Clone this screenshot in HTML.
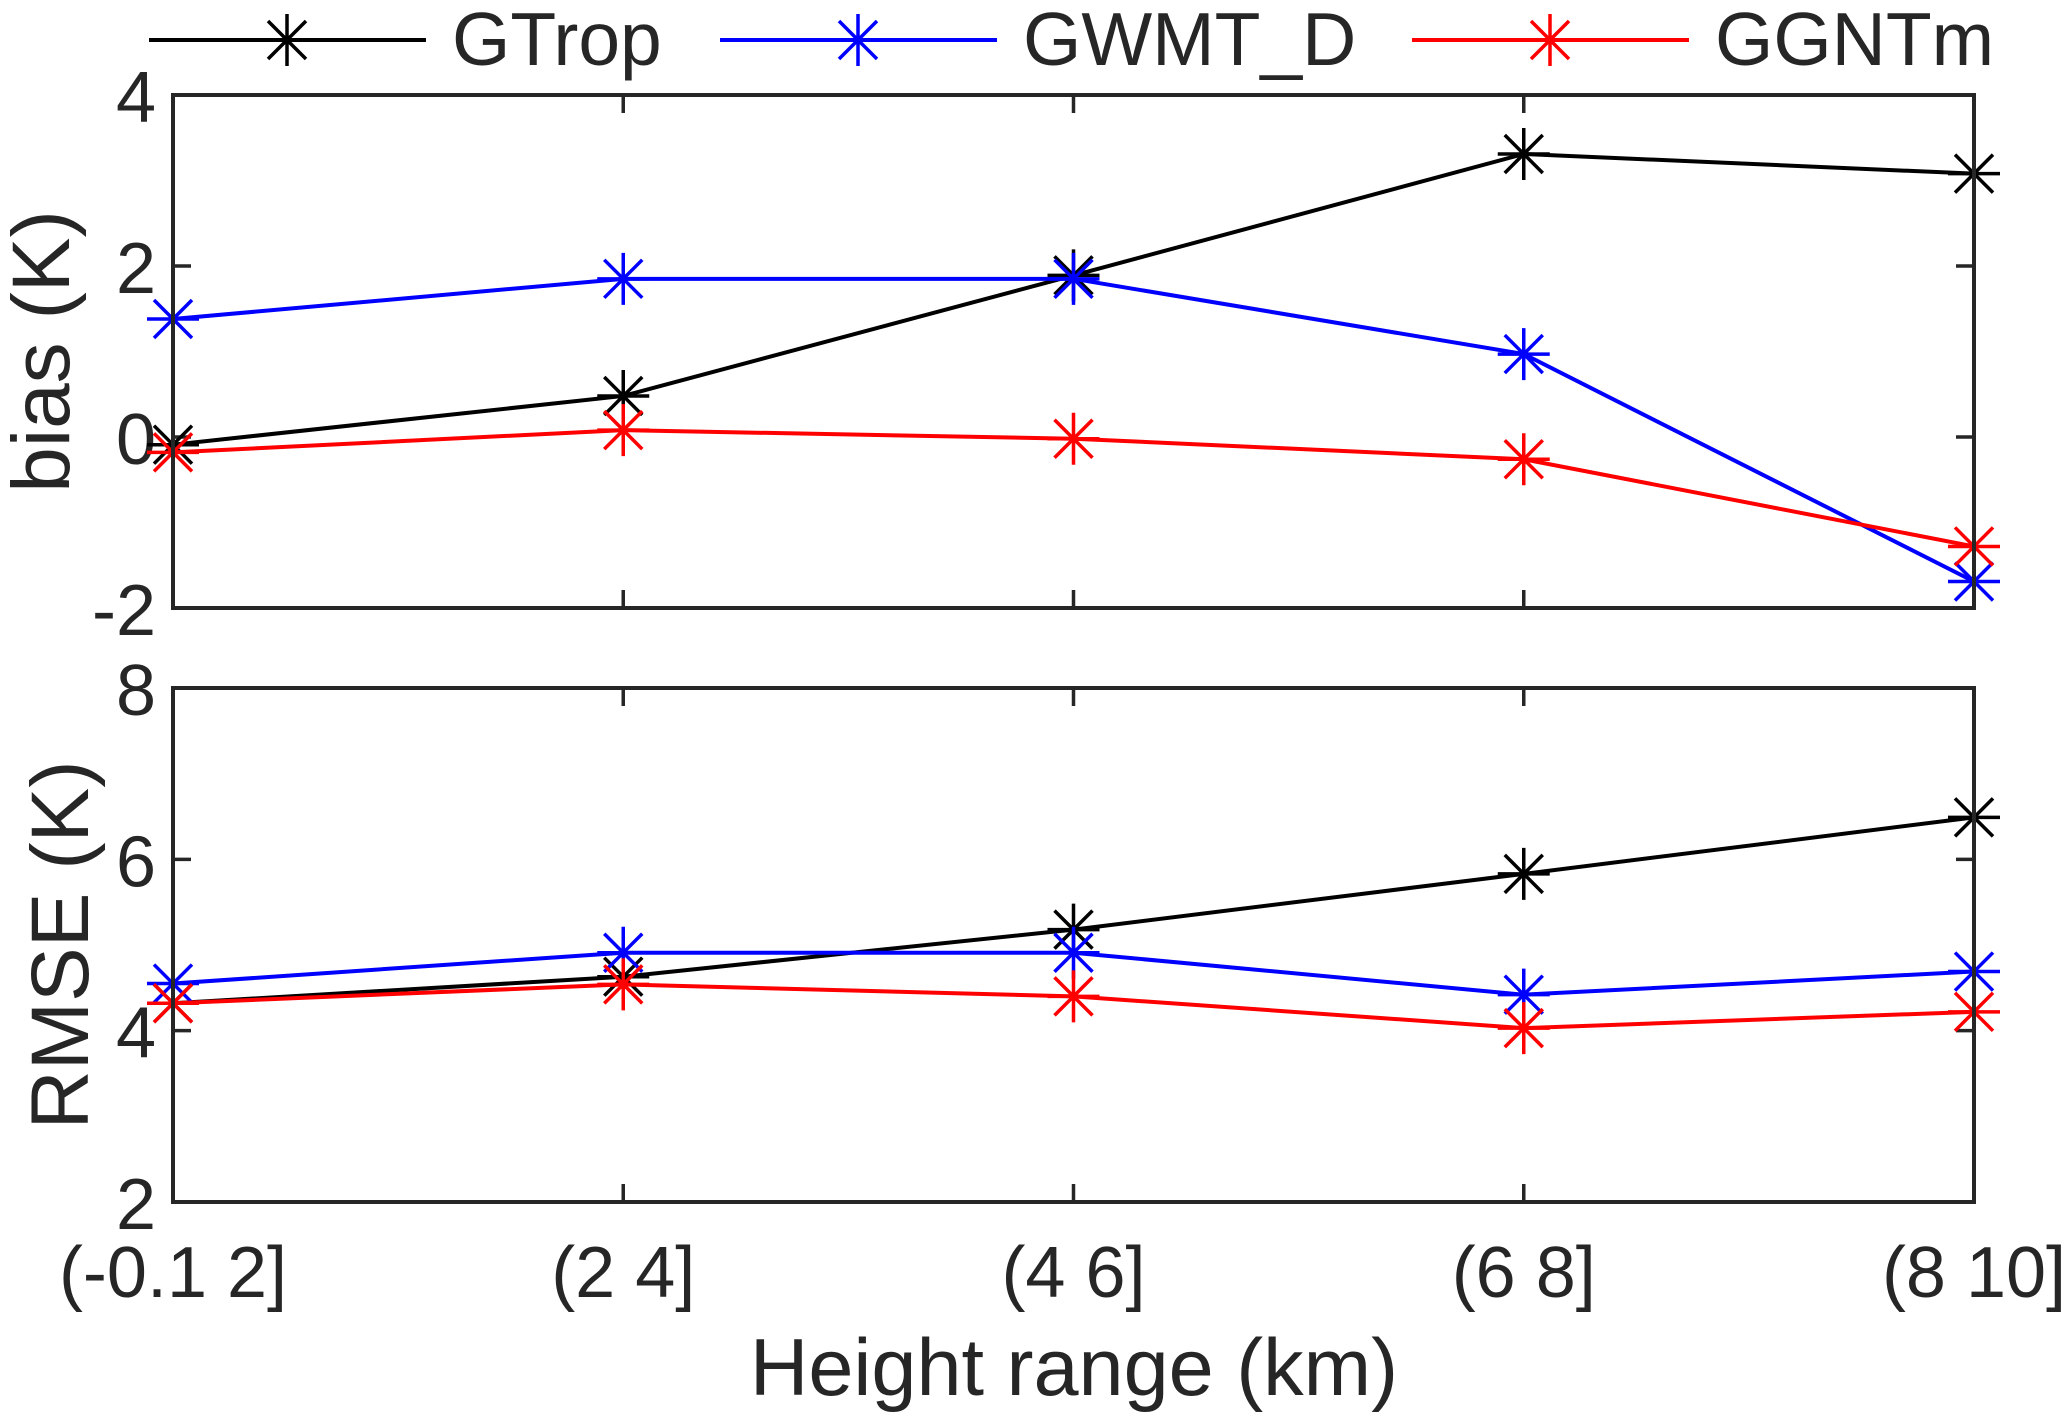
<!DOCTYPE html>
<html><head><meta charset="utf-8"><style>
html,body{margin:0;padding:0;background:#fff;}
svg text{font-family:"Liberation Sans",Arial,sans-serif;fill:#262626;}
</style></head><body>
<svg id="chart" width="2067" height="1414" xmlns="http://www.w3.org/2000/svg"></svg>
<script>
const categories = ["(-0.1 2]","(2 4]","(4 6]","(6 8]","(8 10]"];
const seriesNames = ["GTrop","GWMT_D","GGNTm"];
const seriesColors = ["#000000","#0000ff","#ff0000"];
const biasGTrop = [-0.09,0.48,1.89,3.31,3.08];
const biasGWMT = [1.38,1.85,1.85,0.97,-1.69];
const biasGGNTm = [-0.18,0.08,-0.02,-0.26,-1.28];
const rmseGTrop = [4.32,4.63,5.18,5.83,6.49];
const rmseGWMT = [4.55,4.91,4.91,4.42,4.69];
const rmseGGNTm = [4.32,4.54,4.40,4.03,4.22];
const biasTicks = [-2,0,2,4];
const rmseTicks = [2,4,6,8];

const NS="http://www.w3.org/2000/svg";
const svg=document.getElementById('chart');
function mk(tag,attrs,parent){const e=document.createElementNS(NS,tag);for(const k in attrs)e.setAttribute(k,attrs[k]);(parent||svg).appendChild(e);return e;}
const L=173,R=1974;
function xs(i){return L+(R-L)*i/(categories.length-1);}
function star(g,x,y,c){
  const s=26,d=19;
  mk('path',{d:`M${x-s} ${y}H${x+s}M${x} ${y-s}V${y+s}M${x-d} ${y-d}L${x+d} ${y+d}M${x-d} ${y+d}L${x+d} ${y-d}`,stroke:c,'stroke-width':3.5,fill:'none'},g);
}
function panel(name,top,bot,ticks,data,title,titleX){
  const mn=ticks[0],mx=ticks[ticks.length-1];
  const ys=v=>bot-(v-mn)/(mx-mn)*(bot-top);
  const g=mk('g',{});
  
  
  ticks.forEach(t=>{
    const y=ys(t);
    mk('line',{x1:L,x2:L+18,y1:y,y2:y,stroke:'#262626','stroke-width':3.5},g);
    mk('line',{x1:R-18,x2:R,y1:y,y2:y,stroke:'#262626','stroke-width':3.5},g);
    const tx=mk('text',{x:156,y:y+27,'text-anchor':'end','font-size':72},g);
    tx.textContent=t;
    
    
  });
  categories.forEach((c,i)=>{
    const x=xs(i);
    mk('line',{x1:x,x2:x,y1:bot,y2:bot-18,stroke:'#262626','stroke-width':3.5},g);
    mk('line',{x1:x,x2:x,y1:top,y2:top+18,stroke:'#262626','stroke-width':3.5},g);
  });
  data.forEach((arr,si)=>{
    const sg=mk('g',{},g);
    
    
    mk('polyline',{points:arr.map((v,i)=>xs(i)+','+ys(v)).join(' '),fill:'none',stroke:seriesColors[si],'stroke-width':4},sg);
    arr.forEach((v,i)=>star(sg,xs(i),ys(v),seriesColors[si]));
  });
  const fr=mk('rect',{x:L,y:top,width:R-L,height:bot-top,fill:'none',stroke:'#262626','stroke-width':4},g);
  
  
  const cy=(top+bot)/2;
  const tt=mk('text',{x:titleX,y:cy,'text-anchor':'middle','font-size':82,transform:`rotate(-90 ${titleX} ${cy})`,dy:29},g);
  tt.textContent=title;
  
  
}
panel('bias',95,608,biasTicks,[biasGTrop,biasGWMT,biasGGNTm],'bias (K)',40);
panel('rmse',688,1202,rmseTicks,[rmseGTrop,rmseGWMT,rmseGGNTm],'RMSE (K)',59);
categories.forEach((c,i)=>{
  const t=mk('text',{x:xs(i),y:1297,'text-anchor':'middle','font-size':72});
  t.textContent=c;
  
  
});
const xt=mk('text',{x:1074,y:1395,'text-anchor':'middle','font-size':81});
xt.textContent='Height range (km)';


const legX=[149,720,1412];
seriesNames.forEach((n,si)=>{
  const lg=mk('g',{});
  
  
  const x0=legX[si],y=40;
  mk('line',{x1:x0,x2:x0+277,y1:y,y2:y,stroke:seriesColors[si],'stroke-width':4},lg);
  star(lg,x0+138,y,seriesColors[si]);
  const t=mk('text',{x:x0+303,y:y+25,'font-size':75},lg);
  t.textContent=n;
});
</script>
</body></html>
